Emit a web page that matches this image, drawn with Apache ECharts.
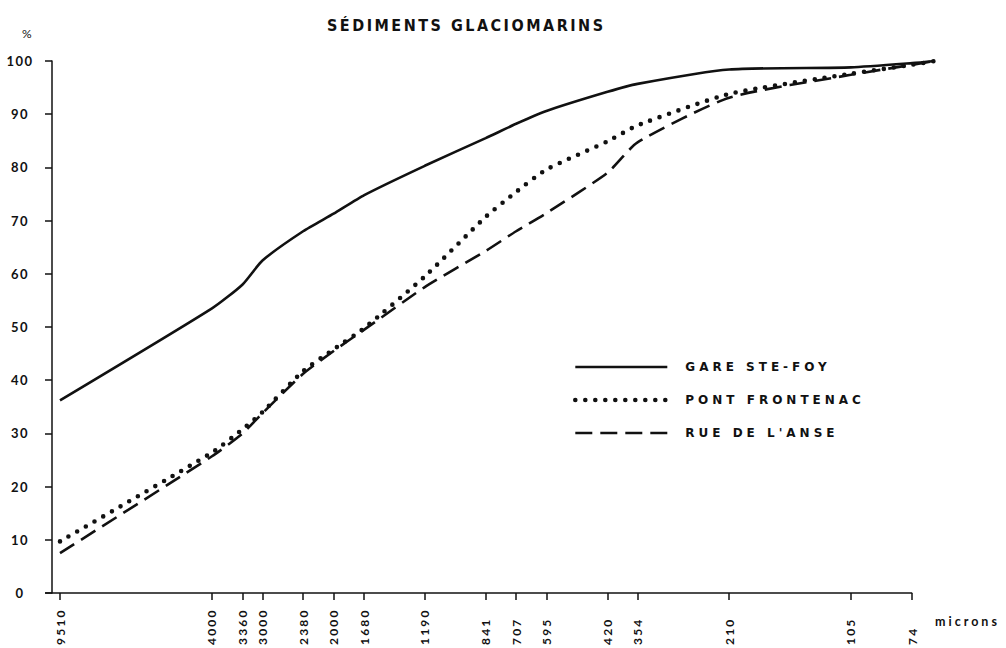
<!DOCTYPE html>
<html>
<head>
<meta charset="utf-8">
<title>Sédiments glaciomarins</title>
<script src="https://cdn.jsdelivr.net/npm/echarts@6/dist/echarts.min.js"></script>
<style>
  html, body { margin: 0; padding: 0; background: #fff; }
  #chart { width: 1006px; height: 648px; }
  /* spaced-out lettering for the typewriter-style labels */
  #chart text { letter-spacing: 2.2px; }
  #chart text[style*="13px"] { letter-spacing: 1.5px; }
  #chart text[style*="12.5px"] { letter-spacing: 3px; }
  #chart text[style*="DejaVu Sans"] { letter-spacing: 4px; }
  #chart text[style*="Condensed"] { letter-spacing: 2.5px; }
</style>
</head>
<body>
<div id="chart"></div>
<script>
// Sieve openings (microns) at which the cumulative percentages were read
const sizes = [9510, 4000, 3360, 3000, 2380, 2000, 1680, 1190, 841, 707, 595, 420, 354, 210, 105, 74, 65];
// Sieve openings shown on the horizontal axis
const tickSizes = [9510, 4000, 3360, 3000, 2380, 2000, 1680, 1190, 841, 707, 595, 420, 354, 210, 105, 74];

// Cumulative percent passing for each site
const gareSteFoy    = [36.2, 53.5, 58.0, 62.5, 68.0, 71.3, 74.8, 80.3, 85.5, 88.2, 90.6, 94.2, 95.7, 98.4, 98.8, 99.6, 100];
const pontFrontenac = [9.7, 26.4, 30.8, 34.0, 41.7, 45.8, 49.8, 59.5, 70.7, 75.4, 79.6, 84.9, 87.9, 93.8, 97.6, 99.3, 100];
const rueDeLAnse    = [7.5, 25.7, 30.0, 33.8, 41.2, 45.5, 49.5, 57.5, 64.3, 68.0, 71.4, 79.0, 84.7, 93.1, 97.4, 99.3, 100];

const seriesNames = ['GARE STE-FOY', 'PONT FRONTENAC', "RUE DE L'ANSE"];

// Line styles shared by the plotted curves and their legend keys
const solidStyle  = { color: '#111', width: 2.6, type: 'solid' };
const dottedStyle = { color: '#111', width: 4.6, type: [0, 10], cap: 'round' };
const dashedStyle = { color: '#111', width: 2.6, type: [17, 8], cap: 'butt' };

// Horizontal axis baseline, from the left edge of the frame to the last labelled sieve
const baseline = [[10350, 0], [74, 0]];

const ink = '#111';

function pairs(values) {
  return sizes.map((s, i) => [s, values[i]]);
}

const chart = echarts.init(document.getElementById('chart'), null, { renderer: 'svg' });

chart.setOption({
  animation: false,
  backgroundColor: '#fff',
  title: {
    text: 'SÉDIMENTS GLACIOMARINS',
    left: 322,
    top: 12,
    textStyle: {
      fontFamily: '"DejaVu Sans Condensed"',
      fontWeight: 'bold',
      fontSize: 16,
      color: ink
    }
  },
  legend: {
    orient: 'vertical',
    left: 573,
    top: 360,
    padding: 0,
    itemWidth: 92,
    itemHeight: 14,
    itemGap: 19,
    itemStyle: { opacity: 0, borderWidth: 0 },
    data: [
      { name: seriesNames[0], lineStyle: solidStyle, itemStyle: { opacity: 0 } },
      { name: seriesNames[1], lineStyle: dottedStyle, itemStyle: { opacity: 0 } },
      { name: seriesNames[2], lineStyle: dashedStyle, itemStyle: { opacity: 0 } }
    ],
    textStyle: {
      fontFamily: '"DejaVu Sans"',
      fontWeight: 'bold',
      fontSize: 12,
      lineHeight: 14,
      color: ink,
      padding: [0, 0, 0, 13]
    }
  },
  graphic: [
    {
      type: 'text',
      left: 935,
      top: 615,
      style: {
        text: 'microns',
        fontFamily: 'Lato',
        fontWeight: 'bold',
        fontSize: 12.5,
        fill: ink
      }
    }
  ],
  grid: {
    left: 45,
    right: 71,
    top: 61,
    bottom: 55,
    containLabel: false,
    outerBoundsMode: 'none'
  },
  xAxis: {
    type: 'log',
    logBase: 2,
    inverse: true,
    min: 65,
    max: 10359,
    axisLine: { show: false },
    axisTick: { show: true, customValues: tickSizes, length: 7, lineStyle: { color: ink, width: 1.5 } },
    axisLabel: {
      customValues: tickSizes,
      rotate: 90,
      align: 'left',
      verticalAlign: 'middle',
      margin: 52,
      fontFamily: 'Lato',
      fontWeight: 'bold',
      fontSize: 12,
      color: ink,
      formatter: v => String(v)
    },
    splitLine: { show: false },
    minorTick: { show: false },
    minorSplitLine: { show: false }
  },
  yAxis: {
    type: 'value',
    min: 0,
    max: 100,
    interval: 10,
    offset: -7,
    name: '%',
    nameLocation: 'end',
    nameGap: 22,
    nameTextStyle: {
      fontFamily: 'Lato',
      fontSize: 12,
      color: ink,
      align: 'center',
      padding: [0, 48, 0, 0]
    },
    axisLine: { show: true, lineStyle: { color: ink, width: 1.5 } },
    axisTick: { show: true, length: 7, lineStyle: { color: ink, width: 1.5 } },
    axisLabel: {
      fontFamily: 'Lato',
      fontWeight: 'bold',
      fontSize: 13,
      color: ink,
      align: 'center',
      margin: 32
    },
    splitLine: { show: false }
  },
  series: [
    {
      name: seriesNames[0],
      type: 'line',
      data: pairs(gareSteFoy),
      smooth: 0.2,
      symbol: 'none',
      clip: false,
      itemStyle: { color: ink },
      lineStyle: solidStyle,
      markLine: {
        silent: true,
        symbol: ['none', 'none'],
        label: { show: false },
        emphasis: { disabled: true },
        lineStyle: { color: ink, width: 1.5, type: 'solid' },
        data: [[{ coord: baseline[0] }, { coord: baseline[1] }]]
      }
    },
    {
      name: seriesNames[1],
      type: 'line',
      data: pairs(pontFrontenac),
      smooth: 0.2,
      symbol: 'none',
      clip: false,
      itemStyle: { color: ink },
      lineStyle: dottedStyle
    },
    {
      name: seriesNames[2],
      type: 'line',
      data: pairs(rueDeLAnse),
      smooth: 0.2,
      symbol: 'none',
      clip: false,
      itemStyle: { color: ink },
      lineStyle: dashedStyle
    }
  ]
});
</script>
</body>
</html>
